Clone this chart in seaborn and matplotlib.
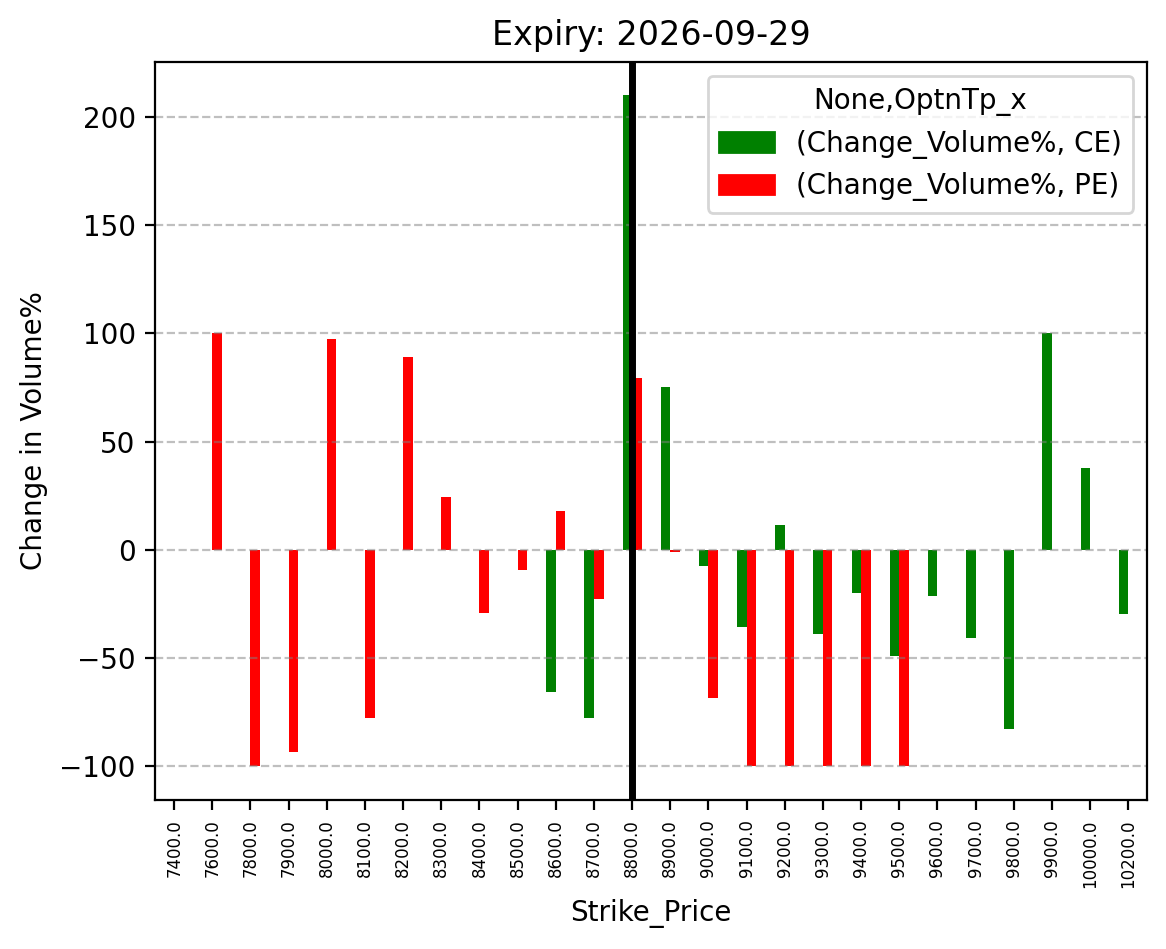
import matplotlib
matplotlib.use("Agg")
import matplotlib.pyplot as plt
from matplotlib.patches import Patch
import numpy as np
import pandas as pd
import seaborn as sns

# strike prices on the x axis
strikes = [7400.0, 7600.0, 7800.0, 7900.0, 8000.0, 8100.0, 8200.0, 8300.0, 8400.0,
           8500.0, 8600.0, 8700.0, 8800.0, 8900.0, 9000.0, 9100.0, 9200.0, 9300.0,
           9400.0, 9500.0, 9600.0, 9700.0, 9800.0, 9900.0, 10000.0, 10200.0]

# change in volume % for calls (CE) and puts (PE), NaN = no bar
ce_change = [np.nan, np.nan, np.nan, np.nan, np.nan, np.nan, np.nan, np.nan, np.nan,
             np.nan, -65.4, -77.8, 210.0, 75.2, -7.2, -35.4, 11.5, -38.6,
             -19.7, -48.8, -21.5, -40.5, -82.5, 100.0, 37.8, -29.4]
pe_change = [np.nan, 100.0, -100.0, -93.5, 97.4, -77.8, 89.0, 24.5, -28.9,
             -9.5, 18.0, -22.5, 79.4, -0.8, -68.6, -100.0, -100.0, -100.0,
             -100.0, -100.0, np.nan, np.nan, np.nan, np.nan, np.nan, np.nan]

atm_strike = 8800.0
expiry = "2026-09-29"

labels = [f"{s:.1f}" for s in strikes]
df = pd.DataFrame({
    'Strike_Price': labels * 2,
    'OptnTp_x': ['CE'] * len(labels) + ['PE'] * len(labels),
    'Change_Volume%': ce_change + pe_change,
}).dropna()

colors = {'CE': 'green', 'PE': 'red'}

fig, ax = plt.subplots(figsize=(5.83, 4.745), dpi=200)
fig.subplots_adjust(left=0.133, right=0.984, top=0.935, bottom=0.157)

sns.barplot(data=df, x='Strike_Price', y='Change_Volume%', hue='OptnTp_x',
            order=labels, hue_order=['CE', 'PE'], palette=colors,
            width=0.5, saturation=1, errorbar=None, linewidth=0, ax=ax)

ax.axvline(labels.index(f"{atm_strike:.1f}"), color='black', linewidth=2.5)
ax.grid(axis='y', linestyle='--', color='gray', alpha=0.5)

ax.set_title(f"Expiry: {expiry}")
ax.set_xlabel('Strike_Price')
ax.set_ylabel('Change in Volume%')
ax.tick_params(axis='x', labelrotation=90, labelsize=6)

handles = [Patch(color=colors[k]) for k in ['CE', 'PE']]
ax.legend(handles, ['(Change_Volume%, CE)', '(Change_Volume%, PE)'],
          title='None,OptnTp_x', loc='upper right')

fig.savefig('out.png', dpi=200)
plt.close(fig)
